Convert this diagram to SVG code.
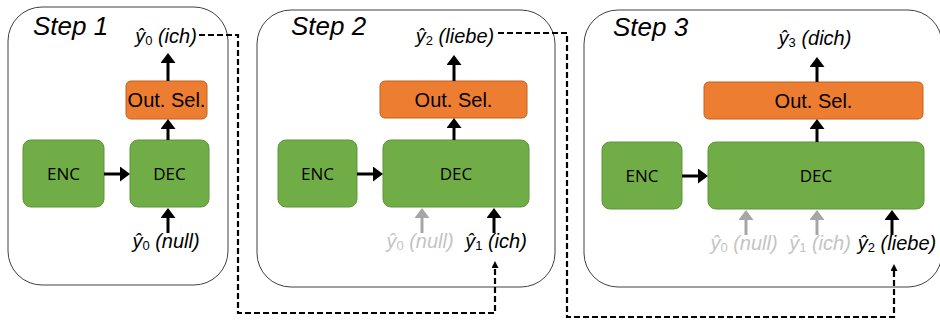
<svg xmlns="http://www.w3.org/2000/svg" width="940" height="320" viewBox="0 0 940 320">
<style>
.panel{fill:#fff;stroke:#404040;stroke-width:1}
.enc,.dec{fill:#70AD47;stroke:#5E9438;stroke-width:1}
.sel{fill:#ED7D31;stroke:#C2621F;stroke-width:1}
.box{font-family:"Open Sans","Liberation Sans",sans-serif;font-size:17px;fill:#000;text-anchor:middle}
.seltxt{font-family:"Liberation Sans",Arial,sans-serif;font-size:20px;fill:#000;text-anchor:middle}
.step{font-family:"Liberation Sans",Arial,sans-serif;font-size:26px;font-style:italic;fill:#000}
.lbl{font-family:"Liberation Sans",Arial,sans-serif;font-size:20px;font-style:italic;fill:#000;text-anchor:middle}
.lbl.g{fill:#C4C4C4}
.sub{font-size:13px;font-style:normal}
.arr{stroke:#000;stroke-width:3;fill:none;marker-end:url(#ah)}
.arr.g{stroke:#A6A6A6;marker-end:url(#ahg)}
.dash{stroke:#000;stroke-width:2.2;fill:none;stroke-dasharray:6 3;marker-end:url(#ahs)}
</style>
<defs>
<marker id="ah" viewBox="0 0 10 10" preserveAspectRatio="none" refX="0" refY="5" markerWidth="10" markerHeight="15" markerUnits="userSpaceOnUse" orient="auto"><path d="M0,0 L10,5 L0,10 z" fill="#000"/></marker>
<marker id="ahg" viewBox="0 0 10 10" preserveAspectRatio="none" refX="0" refY="5" markerWidth="10" markerHeight="15" markerUnits="userSpaceOnUse" orient="auto"><path d="M0,0 L10,5 L0,10 z" fill="#A6A6A6"/></marker>
<marker id="ahs" viewBox="0 0 10 10" preserveAspectRatio="none" refX="0" refY="5" markerWidth="7" markerHeight="7" markerUnits="userSpaceOnUse" orient="auto"><path d="M0,0 L10,5 L0,10 z" fill="#000"/></marker>
</defs>

<g id="panel1">
<rect class="panel" x="8" y="7" width="220" height="278" rx="34"/>
<text class="step" x="33" y="35">Step 1</text>
</g>
<g id="panel2">
<rect class="panel" x="257" y="10" width="298" height="277" rx="34"/>
<text class="step" x="291" y="35">Step 2</text>
</g>
<g id="panel3">
<rect class="panel" x="584" y="10" width="358" height="277" rx="34"/>
<text class="step" x="613" y="36">Step 3</text>
</g>

<g id="enc1"><rect class="enc" x="23" y="140" width="81" height="67" rx="8"/><text class="box" x="63.5" y="180">ENC</text></g>
<g id="dec1"><rect class="dec" x="130" y="140" width="79" height="67" rx="8"/><text class="box" x="169.5" y="180">DEC</text></g>
<g id="sel1"><rect class="sel" x="126" y="81" width="81" height="38" rx="5"/><text class="seltxt" x="166.5" y="107">Out. Sel.</text></g>
<g id="out1"><text class="lbl" x="166" y="43">ŷ<tspan class="sub" dy="2">0</tspan><tspan dy="-2"> (ich)</tspan></text></g>
<g id="in1"><text class="lbl" x="166" y="248">ŷ<tspan class="sub" dy="2">0</tspan><tspan dy="-2"> (null)</tspan></text></g>

<g id="enc2"><rect class="enc" x="278" y="140" width="79" height="67" rx="8"/><text class="box" x="317.5" y="180">ENC</text></g>
<g id="dec2"><rect class="dec" x="383" y="140" width="146" height="67" rx="8"/><text class="box" x="456" y="180">DEC</text></g>
<g id="sel2"><rect class="sel" x="380" y="81" width="147" height="37" rx="5"/><text class="seltxt" x="453.5" y="107">Out. Sel.</text></g>
<g id="out2"><text class="lbl" x="455" y="43">ŷ<tspan class="sub" dy="2">2</tspan><tspan dy="-2"> (liebe)</tspan></text></g>
<g id="in2a"><text class="lbl g" x="420" y="248">ŷ<tspan class="sub" dy="2">0</tspan><tspan dy="-2"> (null)</tspan></text></g>
<g id="in2b"><text class="lbl" x="496" y="248">ŷ<tspan class="sub" dy="2">1</tspan><tspan dy="-2"> (ich)</tspan></text></g>

<g id="enc3"><rect class="enc" x="602" y="142" width="80" height="67" rx="8"/><text class="box" x="642" y="182">ENC</text></g>
<g id="dec3"><rect class="dec" x="708" y="142" width="216" height="67" rx="8"/><text class="box" x="816" y="182">DEC</text></g>
<g id="sel3"><rect class="sel" x="704" y="82" width="219" height="37" rx="5"/><text class="seltxt" x="813.5" y="108">Out. Sel.</text></g>
<g id="out3"><text class="lbl" x="815" y="45">ŷ<tspan class="sub" dy="2">3</tspan><tspan dy="-2"> (dich)</tspan></text></g>
<g id="in3a"><text class="lbl g" x="744" y="250">ŷ<tspan class="sub" dy="2">0</tspan><tspan dy="-2"> (null)</tspan></text></g>
<g id="in3b"><text class="lbl g" x="820" y="250">ŷ<tspan class="sub" dy="2">1</tspan><tspan dy="-2"> (ich)</tspan></text></g>
<g id="in3c"><text class="lbl" x="897" y="250">ŷ<tspan class="sub" dy="2">2</tspan><tspan dy="-2"> (liebe)</tspan></text></g>

<g id="connectors">
<line class="arr" x1="104" y1="174" x2="120" y2="174"/>
<line class="arr" x1="168" y1="140" x2="168" y2="129"/>
<line class="arr" x1="168" y1="81" x2="168" y2="63"/>
<line class="arr" x1="168" y1="233" x2="168" y2="218"/>

<line class="arr" x1="357" y1="174" x2="373" y2="174"/>
<line class="arr" x1="454" y1="140" x2="454" y2="128"/>
<line class="arr" x1="454" y1="81" x2="454" y2="65"/>
<line class="arr g" x1="422" y1="233" x2="422" y2="218"/>
<line class="arr" x1="494" y1="233" x2="494" y2="218"/>

<line class="arr" x1="682" y1="176" x2="698" y2="176"/>
<line class="arr" x1="817" y1="142" x2="817" y2="129"/>
<line class="arr" x1="817" y1="82" x2="817" y2="67"/>
<line class="arr g" x1="746" y1="235" x2="746" y2="220"/>
<line class="arr g" x1="817" y1="235" x2="817" y2="220"/>
<line class="arr" x1="892" y1="235" x2="892" y2="220"/>

<path class="dash" d="M199,35 H238 V313 H495 V268"/>
<path class="dash" d="M498,33 H567 V317 H894 V271"/>
</g>
</svg>
